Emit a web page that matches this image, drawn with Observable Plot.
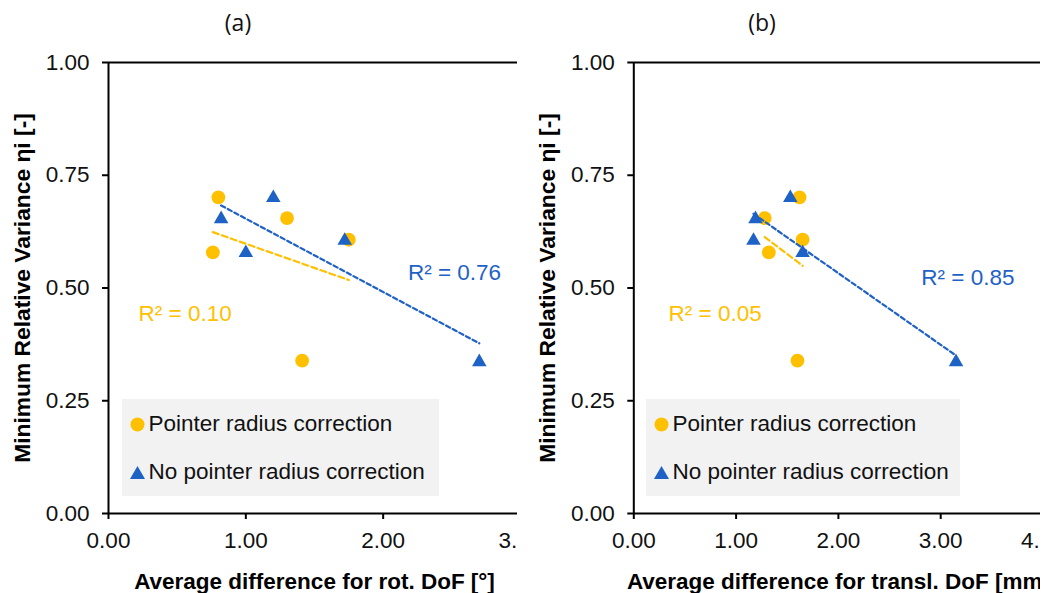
<!DOCTYPE html>
<html><head><meta charset="utf-8">
<script src="https://cdn.jsdelivr.net/npm/d3@7"></script>
<script src="https://cdn.jsdelivr.net/npm/@observablehq/plot@0.6"></script>
<style>
body{margin:0;background:#fff;}
#root{position:relative;width:1047px;height:593px;overflow:hidden;background:#fff;}
.panel{position:absolute;top:0;height:593px;overflow:hidden;}
.title{position:absolute;top:10.6px;width:476px;text-align:center;font-family:"Open Sans",sans-serif;font-size:23px;line-height:1;color:#111;}
.legend{position:absolute;top:399px;height:97px;background:#F2F2F2;font-family:"Liberation Sans",Arial,sans-serif;font-size:22.5px;color:#111;}
.legend .row{position:absolute;display:flex;align-items:center;line-height:1;white-space:nowrap;}
.legend svg{margin-right:3.5px;flex-shrink:0;}
</style></head><body><div id="root"></div>
<script>
// ---- data ----
const seriesNames = ["Pointer radius correction", "No pointer radius correction"];
const panelTitles = ["(a)", "(b)"];
const xLabels = ["Average difference for rot. DoF [°]", "Average difference for transl. DoF [mm]"];
const yLabel = "Minimum Relative Variance ηi [-]";
const yTicks = [0, 0.25, 0.5, 0.75, 1];
const xTicksA = [0, 1, 2, 3];
const xTicksB = [0, 1, 2, 3, 4];

// Pointer radius correction (circles)
const etaCorr = [0.701, 0.655, 0.607, 0.579, 0.339];
const rotCorr = [0.80, 1.30, 1.75, 0.76, 1.41];
const transCorr = [1.62, 1.28, 1.65, 1.32, 1.60];
// No pointer radius correction (triangles)
const etaNoCorr = [0.700, 0.653, 0.605, 0.578, 0.336];
const rotNoCorr = [1.20, 0.82, 1.72, 1.00, 2.70];
const transNoCorr = [1.53, 1.19, 1.17, 1.65, 3.15];

const r2LabelsA = ["R² = 0.10", "R² = 0.76"];
const r2LabelsB = ["R² = 0.05", "R² = 0.85"];
const r2PosA = [[0.219, 0.443], [2.18, 0.533]];
const r2PosB = [[0.34, 0.443], [2.81, 0.523]];

const YELLOW = "#FFC000", BLUE = "#1F62C6";
const FONT = "'Liberation Sans', Arial, sans-serif";
const fmt = d3.format(".2f");

function makePanel({xs1, xs2, xMax, xTicks, labels, pos, xLabel, width, marginLeft, marginRight}) {
  const d1 = xs1.map((x, i) => ({x, y: etaCorr[i]}));
  const d2 = xs2.map((x, i) => ({x, y: etaNoCorr[i]}));
  const ann = labels.map((t, i) => ({text: t, x: pos[i][0], y: pos[i][1], c: i === 0 ? YELLOW : BLUE}));
  return Plot.plot({
    width, height: 593,
    marginTop: 62, marginBottom: 80, marginLeft, marginRight,
    x: {domain: [0, xMax]},
    y: {domain: [0, 1]},
    style: {fontFamily: FONT, fontSize: "22.5px", color: "#111", background: "transparent", maxWidth: "none", overflow: "visible"},
    marks: [
      Plot.ruleY([1], {stroke: "black", strokeWidth: 2}),
      Plot.axisY({ticks: yTicks, tickFormat: fmt, tickSize: 6, tickPadding: 13, strokeWidth: 2, label: null, fontSize: 22.5, stroke: "black"}),
      Plot.axisX({ticks: xTicks, tickFormat: fmt, tickSize: 6, tickPadding: 12.7, strokeWidth: 2, label: null, fontSize: 22.5, stroke: "black"}),
      Plot.ruleY([0], {stroke: "black", strokeWidth: 2}),
      Plot.ruleX([0], {stroke: "black", strokeWidth: 2}),
      Plot.dot(d1, {x: "x", y: "y", r: 6.9, fill: YELLOW, symbol: "circle"}),
      Plot.dot(d2, {x: "x", y: "y", r: 5.4, fill: BLUE, symbol: "triangle"}),
      Plot.linearRegressionY(d1, {x: "x", y: "y", stroke: YELLOW, strokeWidth: 2.2, strokeDasharray: "6,3.5", ci: 0}),
      Plot.linearRegressionY(d2, {x: "x", y: "y", stroke: BLUE, strokeWidth: 2.2, strokeDasharray: "4.5,3", ci: 0}),
      Plot.text(ann, {x: "x", y: "y", text: "text", fill: "c", textAnchor: "start", fontSize: 22.5}),
      Plot.text([yLabel], {text: d => d, frameAnchor: "left", textAnchor: "middle", lineAnchor: "middle", rotate: -90, dx: -86, fontWeight: "bold", fontSize: 22.8, fill: "black"}),
      Plot.text([xLabel], {text: d => d, frameAnchor: "bottom", textAnchor: "middle", lineAnchor: "middle", dy: 67.8, fontWeight: "bold", fontSize: 22.5, fill: "black"})
    ]
  });
}

const root = document.getElementById("root");

function addPanel(left, w, plot) {
  const div = document.createElement("div");
  div.className = "panel";
  div.style.left = left + "px";
  div.style.width = w + "px";
  div.appendChild(plot);
  root.appendChild(div);
}

addPanel(0, 517, makePanel({xs1: rotCorr, xs2: rotNoCorr, xMax: 3, xTicks: xTicksA, labels: r2LabelsA, pos: r2PosA,
  xLabel: xLabels[0], width: 540, marginLeft: 108, marginRight: 20}));
addPanel(517, 523, makePanel({xs1: transCorr, xs2: transNoCorr, xMax: 4, xTicks: xTicksB, labels: r2LabelsB, pos: r2PosB,
  xLabel: xLabels[1], width: 560, marginLeft: 116.3, marginRight: 34.5}));

function addTitle(left, text) {
  const t = document.createElement("div");
  t.className = "title";
  t.style.left = left + "px";
  t.textContent = text;
  root.appendChild(t);
}
addTitle(0, panelTitles[0]);
addTitle(524, panelTitles[1]);

function symbolSvg(kind, color) {
  const ns = "http://www.w3.org/2000/svg";
  const s = document.createElementNS(ns, "svg");
  s.setAttribute("width", 15); s.setAttribute("height", 15);
  let el;
  if (kind === "circle") {
    el = document.createElementNS(ns, "circle");
    el.setAttribute("cx", 7.5); el.setAttribute("cy", 7.5); el.setAttribute("r", 7);
  } else {
    el = document.createElementNS(ns, "path");
    el.setAttribute("d", "M7.5,1 L15,14 L0,14 Z");
  }
  el.setAttribute("fill", color);
  s.appendChild(el);
  return s;
}

function addLegend(left, width) {
  const box = document.createElement("div");
  box.className = "legend";
  box.style.left = left + "px";
  box.style.width = width + "px";
  const rows = [[seriesNames[0], "circle", YELLOW, 14], [seriesNames[1], "triangle", BLUE, 62.3]];
  for (const [name, kind, color, top] of rows) {
    const row = document.createElement("div");
    row.className = "row";
    row.style.left = "8px";
    row.style.top = top + "px";
    row.appendChild(symbolSvg(kind, color));
    const sp = document.createElement("span");
    sp.textContent = name;
    row.appendChild(sp);
    box.appendChild(row);
  }
  root.appendChild(box);
}
addLegend(122, 317);
addLegend(646, 314);
</script></body></html>
